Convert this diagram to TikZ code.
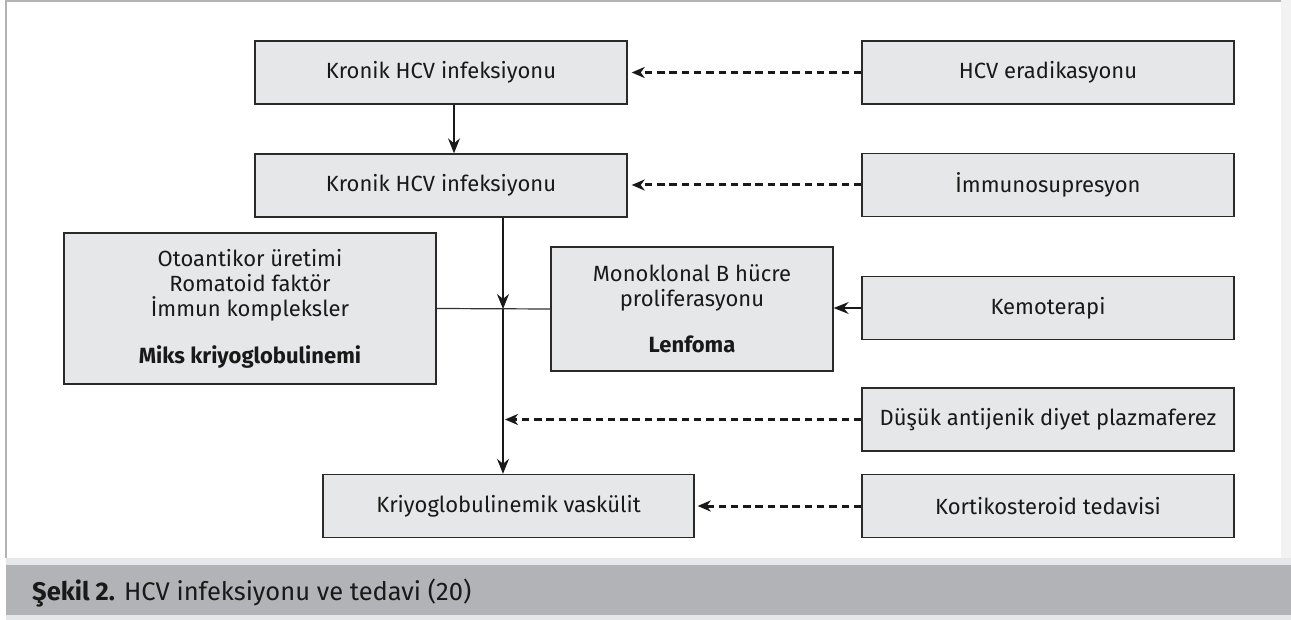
\documentclass[tikz,border=0pt]{standalone}
\usepackage{fontspec}
\setmainfont{Fira Sans}
\usetikzlibrary{arrows.meta,calc}
\definecolor{boxfill}{HTML}{E6E7E8}
\definecolor{boxline}{HTML}{2A2A2A}
\definecolor{framegray}{HTML}{B3B3B3}
\definecolor{capdark}{HTML}{B1B3B6}
\definecolor{caplight}{HTML}{E6E7E8}
\definecolor{rightstrip}{HTML}{F2F2F2}
\tikzset{
  box/.style={draw=boxline, line width=1.4pt, fill=boxfill, minimum width=372pt, minimum height=63pt,
    inner sep=0pt, font=\fontsize{22}{25}\selectfont, align=center, text=black!90},
  arr/.style={line width=1.2pt, draw=black!90, -{Stealth[length=15pt,width=12pt,inset=5pt]}},
  darr/.style={line width=3pt, draw=black!90, dash pattern=on 7.5pt off 4.8pt,
    -{Stealth[length=13pt,width=11pt,inset=4pt]}, shorten >=4pt},
  plain/.style={line width=1.2pt, draw=black!80},
}
\begin{document}
\begin{tikzpicture}[x=1pt,y=-1pt]
\useasboundingbox (0,0) rectangle (1291,620);
% frame and bands
\fill[rightstrip] (1281,0) rectangle (1291,558);
\draw[framegray, line width=1.2pt] (6,558) -- (6,1) -- (1281,1);
\fill[caplight] (6,558) rectangle (1291,620);
\fill[capdark] (6,565) rectangle (1291,615);
\node[anchor=base west, inner sep=0pt, font=\fontsize{25.5}{30}\selectfont, text=black!90] (cap) at (32,600)
  {\textbf{Şekil 2.} HCV infeksiyonu ve tedavi (20)};
% boxes
\node[box] (b1) at (441,72.5) {Kronik HCV infeksiyonu};
\node[box] (b2) at (441,185.5) {Kronik HCV infeksiyonu};
\node[box] (hcv) at (1048,72.5) {HCV eradikasyonu};
\node[box] (imm) at (1048,185) {İmmunosupresyon};
\node[box, minimum height=151pt] (oto) at (250,308.5)
  {Otoantikor üretimi\\Romatoid faktör\\İmmun kompleksler\\[22pt]\textbf{Miks kriyoglobulinemi}};
\node[box, minimum width=282pt, minimum height=124pt] (mono) at (692,309)
  {Monoklonal B hücre\\proliferasyonu\\[21pt]\textbf{Lenfoma}};
\node[box] (kemo) at (1048,308) {Kemoterapi};
\node[box] (dus) at (1048,419.5) {Düşük antijenik diyet plazmaferez};
\node[box, minimum width=371pt] (kriyo) at (508.5,506) {Kriyoglobulinemik vaskülit};
\node[box] (kort) at (1048,506) {Kortikosteroid tedavisi};
% junction
\coordinate (j) at (503,309);
% connectors
\draw[arr] ([xshift=13pt]b1.south) -- ([xshift=13pt]b1.south |- b2.north);
\draw[arr] (b2.south -| j) -- (j);
\draw[arr] (j) -- (j |- kriyo.north);
\draw[plain] (oto.east) -- (mono.west);
\draw[arr] (kemo.west) -- (kemo.west -| mono.east);
\draw[darr] (hcv.west) -- (b1.east);
\draw[darr] (imm.west) -- (imm.west -| b2.east);
\draw[darr, shorten >=2pt] (dus.west) -- (dus.west -| j);
\draw[darr, shorten >=3pt] (kort.west) -- (kriyo.east);
\end{tikzpicture}
\end{document}
